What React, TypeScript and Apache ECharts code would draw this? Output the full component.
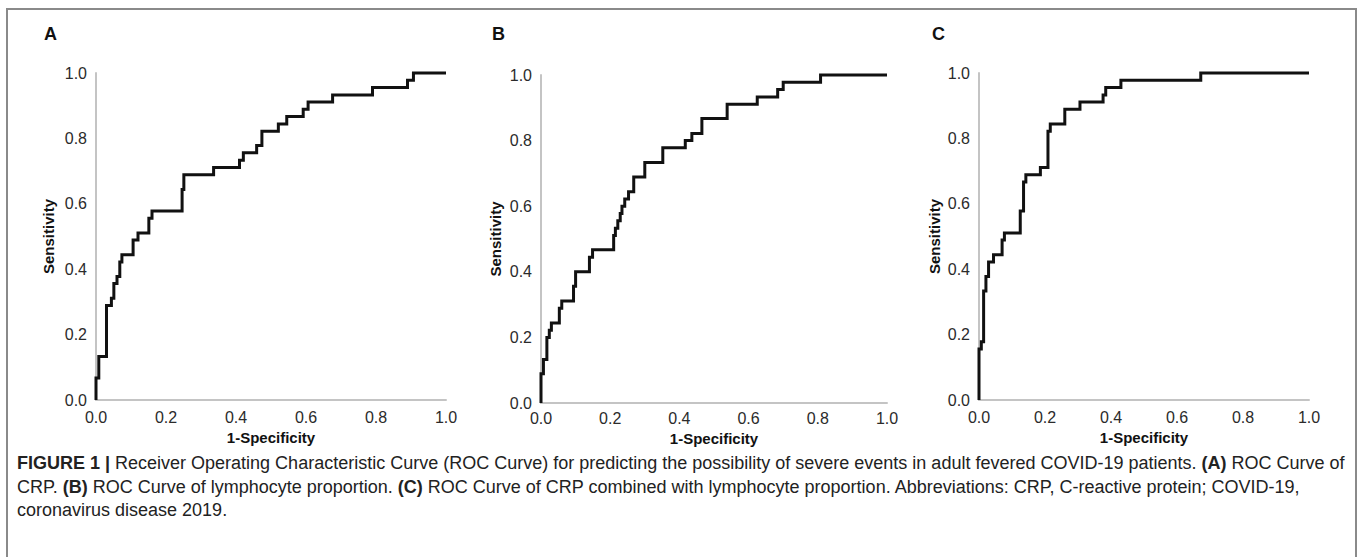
import React, { useEffect, useRef } from "react";
import * as echarts from "echarts";

// Panel A: ROC curve of CRP (1-specificity, sensitivity) at each step
const fprA = [0, 0, 0.008, 0.03, 0.044, 0.051, 0.06, 0.068, 0.074, 0.106, 0.12, 0.151, 0.16, 0.246, 0.251, 0.336, 0.41, 0.421, 0.459, 0.474, 0.521, 0.545, 0.592, 0.606, 0.676, 0.79, 0.89, 0.907, 1.0];
const tprA = [0, 0.067, 0.133, 0.289, 0.311, 0.356, 0.378, 0.422, 0.444, 0.489, 0.511, 0.556, 0.578, 0.644, 0.689, 0.711, 0.733, 0.756, 0.778, 0.822, 0.844, 0.867, 0.889, 0.911, 0.933, 0.956, 0.978, 1.0, 1.0];

// Panel B: ROC curve of lymphocyte proportion
const fprB = [0, 0, 0.007, 0.017, 0.024, 0.03, 0.053, 0.06, 0.094, 0.1, 0.14, 0.149, 0.21, 0.215, 0.222, 0.229, 0.234, 0.242, 0.253, 0.268, 0.3, 0.352, 0.417, 0.436, 0.465, 0.538, 0.625, 0.684, 0.7, 0.808, 1.0];
const tprB = [0, 0.089, 0.133, 0.2, 0.222, 0.244, 0.289, 0.311, 0.356, 0.4, 0.444, 0.467, 0.511, 0.533, 0.556, 0.578, 0.6, 0.622, 0.644, 0.689, 0.733, 0.778, 0.8, 0.822, 0.867, 0.911, 0.933, 0.956, 0.978, 1.0, 1.0];

// Panel C: ROC curve of CRP combined with lymphocyte proportion
const fprC = [0, 0, 0.007, 0.014, 0.021, 0.029, 0.044, 0.07, 0.077, 0.125, 0.135, 0.142, 0.186, 0.209, 0.216, 0.26, 0.306, 0.376, 0.384, 0.43, 0.672, 1.0];
const tprC = [0, 0.156, 0.178, 0.333, 0.378, 0.422, 0.444, 0.489, 0.511, 0.578, 0.667, 0.689, 0.711, 0.822, 0.844, 0.889, 0.911, 0.933, 0.956, 0.978, 1.0, 1.0];

const panelLetters = ["A", "B", "C"];
const xAxisTitle = "1-Specificity";
const yAxisTitle = "Sensitivity";
const tickValues = [0, 0.2, 0.4, 0.6, 0.8, 1.0];

const captionLines = [
  "{b|FIGURE 1 |} Receiver Operating Characteristic Curve (ROC Curve) for predicting the possibility of severe events in adult fevered COVID-19 patients. {b|(A)} ROC Curve of",
  "CRP. {b|(B)} ROC Curve of lymphocyte proportion. {b|(C)} ROC Curve of CRP combined with lymphocyte proportion. Abbreviations: CRP, C-reactive protein; COVID-19,",
  "coronavirus disease 2019.",
];

const FONT = "'Liberation Sans', Arial, Helvetica, sans-serif";

export default function App() {
  const ref = useRef<HTMLDivElement>(null);

  useEffect(() => {
    document.body.style.margin = "0";
    if (!ref.current) return;
    const chart = echarts.init(ref.current, null, { renderer: "svg" });

    const grids = [
      { left: 96, top: 73, width: 350, height: 327 },
      { left: 541, top: 75, width: 346, height: 328 },
      { left: 979, top: 73, width: 330, height: 327 },
    ];
    const yNameGaps = [40, 38, 37];
    const xLabelMargins = [9, 7, 9];
    const xNameGaps = [22, 19, 22];
    const series = [
      [fprA, tprA],
      [fprB, tprB],
      [fprC, tprC],
    ];

    const axisLine = { show: true, onZero: false, lineStyle: { color: "#c4c4c4", width: 2 } };
    const axisLabel = {
      color: "#2b2b2b",
      fontSize: 16,
      fontFamily: FONT,
      formatter: (v: number) => (tickValues.some((t) => Math.abs(t - v) < 1e-9) ? v.toFixed(1) : ""),
    };

    const option: any = {
      animation: false,
      backgroundColor: "#ffffff",
      grid: grids.map((g) => ({ ...g, containLabel: false })),
      xAxis: grids.map((_, i) => ({
        type: "value",
        gridIndex: i,
        min: 0,
        max: 1,
        interval: 0.2,
        axisLine,
        axisTick: { show: false },
        splitLine: { show: false },
        axisLabel: { ...axisLabel, margin: xLabelMargins[i] },
        name: xAxisTitle,
        nameLocation: "middle",
        nameGap: xNameGaps[i],
        nameTextStyle: { fontFamily: FONT, fontWeight: "bold", fontSize: 15, color: "#111" },
      })),
      yAxis: grids.map((_, i) => ({
        type: "value",
        gridIndex: i,
        min: 0,
        max: 1,
        interval: 0.2,
        axisLine,
        axisTick: { show: false },
        splitLine: { show: false },
        axisLabel: { ...axisLabel, margin: 9 },
        name: yAxisTitle,
        nameLocation: "middle",
        nameRotate: 90,
        nameGap: yNameGaps[i],
        nameTextStyle: { fontFamily: FONT, fontWeight: "bold", fontSize: 15, color: "#111" },
      })),
      series: series.map(([xs, ys], i) => ({
        type: "line",
        xAxisIndex: i,
        yAxisIndex: i,
        step: "end",
        showSymbol: false,
        symbol: "none",
        clip: false,
        lineStyle: { color: "#111", width: 3, join: "miter" },
        data: xs.map((x, k) => [x, ys[k]]),
      })),
      graphic: [
        {
          type: "rect",
          shape: { x: 7, y: 9, width: 1349, height: 560 },
          style: { fill: "none", stroke: "#8a8a8a", lineWidth: 2 },
          silent: true,
        },
        ...panelLetters.map((l, i) => ({
          type: "text",
          x: [44, 492, 932][i],
          y: 34,
          style: {
            text: l,
            font: `bold 18px ${FONT}`,
            fill: "#111",
            verticalAlign: "middle",
            align: "left",
          },
        })),
        ...captionLines.map((line, i) => ({
          type: "text",
          x: 17,
          y: 463 + i * 23.5,
          style: {
            text: line,
            fontFamily: FONT,
            fontSize: 18,
            fill: "#222",
            verticalAlign: "middle",
            align: "left",
            rich: {
              b: { fontFamily: FONT, fontSize: 18, fontWeight: "bold", fill: "#222" },
            },
          },
        })),
      ],
    };

    chart.setOption(option);
    return () => chart.dispose();
  }, []);

  return <div ref={ref} style={{ width: 1357, height: 557 }} />;
}
